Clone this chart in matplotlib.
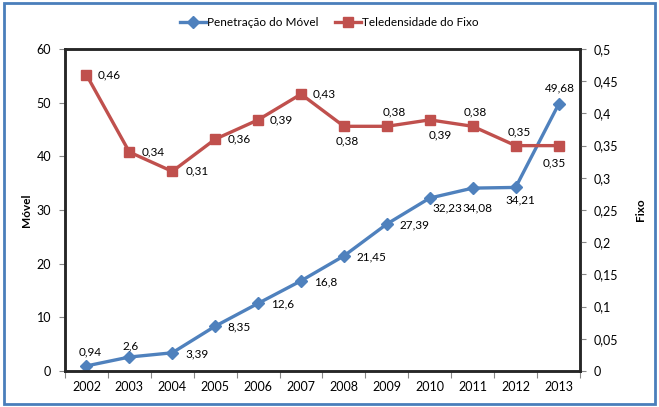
import numpy as np
import matplotlib.pyplot as plt
from matplotlib.patches import Rectangle

years = ['2002', '2003', '2004', '2005', '2006', '2007', '2008', '2009', '2010', '2011', '2012', '2013']
movel = [0.94, 2.6, 3.39, 8.35, 12.6, 16.8, 21.45, 27.39, 32.23, 34.08, 34.21, 49.68]
fixo = [0.46, 0.34, 0.31, 0.36, 0.39, 0.43, 0.38, 0.38, 0.39, 0.38, 0.35, 0.35]

# label placement: (ha, dx px, dy px)
movel_pos = [('center', 4, 14), ('center', 1, 11), ('left', 13, -1), ('left', 12, -1),
             ('left', 13, -1), ('left', 13, -1), ('left', 13, -1), ('left', 13, -1),
             ('left', 3, -10), ('center', 5, -20), ('center', 5, -12), ('center', 1, 16)]
fixo_pos = [('left', 11, 0), ('left', 12, 0), ('left', 13, 0), ('left', 12, 0),
            ('left', 12, 0), ('left', 12, 0), ('center', 3, -15), ('center', 7, 14),
            ('center', 10, -15), ('center', 3, 14), ('center', 4, 14), ('center', -4, -17)]

blue = '#4f81bd'
red = '#c0504d'
plt.rcParams['font.family'] = ['Lato', 'DejaVu Sans']
fs = 8.5
px = 0.72

fig = plt.figure(figsize=(6.59, 4.07), dpi=100)
fig.patches.append(Rectangle((0.006, 0.008), 0.988, 0.984, transform=fig.transFigure,
                             fill=False, edgecolor='#4a7ebb', linewidth=2))
ax = fig.add_axes([0.0986, 0.0885, 0.7815, 0.791])
ax2 = ax.twinx()

x = np.arange(len(years))
l1, = ax.plot(x, movel, color=blue, lw=2.4, marker='D', ms=6, label='Penetração do Móvel')
l2, = ax2.plot(x, fixo, color=red, lw=2.4, marker='s', ms=7, label='Teledensidade do Fixo')

for i, v in enumerate(movel):
    ha, dx, dy = movel_pos[i]
    ax.annotate(f'{v:g}'.replace('.', ','), (x[i], v), xytext=(dx * px, dy * px),
                textcoords='offset points', ha=ha, va='center', fontsize=fs)
for i, v in enumerate(fixo):
    ha, dx, dy = fixo_pos[i]
    ax2.annotate(f'{v:.2f}'.replace('.', ','), (x[i], v), xytext=(dx * px, dy * px),
                 textcoords='offset points', ha=ha, va='center', fontsize=fs)

ax.set_xlim(-0.5, 11.5)
ax.set_ylim(0, 60)
ax2.set_ylim(0, 0.5)
ax.set_yticks(range(0, 61, 10))
ax2.set_yticks(np.arange(0, 0.51, 0.05))
ax2.set_yticklabels(['0'] + [f'{t:.2f}'.rstrip('0').replace('.', ',') for t in np.arange(0.05, 0.51, 0.05)])
ax.set_xticks(np.arange(-0.5, 12, 1))
ax.set_xticklabels([])
ax.set_xticks(x, minor=True)
ax.set_xticklabels(years, minor=True)
ax.tick_params(axis='x', which='minor', length=0, pad=7, labelsize=9)
ax.tick_params(axis='x', which='major', length=5, color='#868686')
ax.tick_params(axis='y', labelsize=9, length=4, color='#868686', pad=6)
ax2.tick_params(axis='y', labelsize=9, length=4, color='#868686', pad=6)

for a in (ax, ax2):
    for s in a.spines.values():
        s.set_color('#262626')
        s.set_linewidth(1.8)

ax.set_ylabel('Móvel', fontweight='bold', fontsize=fs, labelpad=3)
ax2.set_ylabel('Fixo', fontweight='bold', fontsize=fs, labelpad=12)

fig.legend(handles=[l1, l2], loc='upper center', bbox_to_anchor=(0.5, 0.985), ncol=2,
           frameon=False, fontsize=fs, handlelength=2.2, handletextpad=0.1, columnspacing=1.4)

fig.savefig('out.png', dpi=100)
